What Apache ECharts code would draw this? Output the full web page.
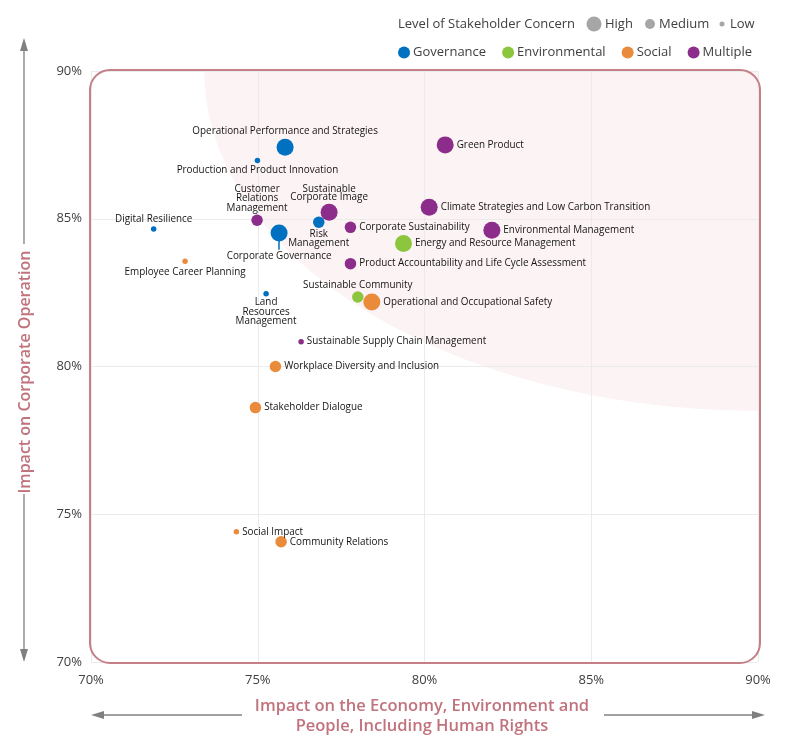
<!DOCTYPE html>
<html>
  <head>
    <meta charset="utf-8">
    <title>Materiality Matrix</title>
    <script src="https://cdn.jsdelivr.net/npm/echarts@6/dist/echarts.min.js"></script>
    <style>
      html, body { margin: 0; padding: 0; background: #fff; }
      #main { width: 791px; height: 756px; }
    </style>
  </head>
  <body>
    <div id="main"></div>
    <script>
      var topics = [
        'Operational Performance and Strategies', 'Production and Product Innovation', 'Green Product',
        'Customer Relations Management', 'Sustainable Corporate Image', 'Risk Management',
        'Corporate Governance', 'Digital Resilience', 'Employee Career Planning',
        'Climate Strategies and Low Carbon Transition', 'Corporate Sustainability', 'Environmental Management',
        'Energy and Resource Management', 'Product Accountability and Life Cycle Assessment', 'Sustainable Community',
        'Operational and Occupational Safety', 'Land Resources Management', 'Sustainable Supply Chain Management',
        'Workplace Diversity and Inclusion', 'Stakeholder Dialogue', 'Social Impact', 'Community Relations'
      ];
      var econImpact = [75.82, 74.99, 80.62, 74.98, 77.14, 76.83, 75.64, 71.88, 72.82, 80.14, 77.78,
                        82.02, 79.37, 77.78, 78.00, 78.42, 75.25, 76.30, 75.53, 74.93, 74.36, 75.70];
      var operImpact = [87.42, 86.97, 87.50, 84.95, 85.22, 84.88, 84.52, 84.65, 83.56, 85.39, 84.71,
                        84.61, 84.16, 83.48, 82.35, 82.18, 82.46, 80.84, 80.00, 78.61, 74.41, 74.07];
      var topicGroup = ['Governance', 'Governance', 'Multiple', 'Multiple', 'Multiple', 'Governance',
                        'Governance', 'Governance', 'Social', 'Multiple', 'Multiple', 'Multiple',
                        'Environmental', 'Multiple', 'Environmental', 'Social', 'Governance', 'Multiple',
                        'Social', 'Social', 'Social', 'Social'];
      var concernLevel = ['High', 'Low', 'High', 'Medium', 'High', 'Medium', 'High', 'Low', 'Low', 'High', 'Medium',
                          'High', 'High', 'Medium', 'Medium', 'High', 'Low', 'Low', 'Medium', 'Medium', 'Low', 'Medium'];
      var groups = ['Governance', 'Environmental', 'Social', 'Multiple'];
      var levels = ['High', 'Medium', 'Low'];

      // styling
      var groupColor = { Governance: '#0070c0', Environmental: '#8cc63f', Social: '#e98b3a', Multiple: '#8c2d8b' };
      var levelSize = { High: 17, Medium: 11.5, Low: 5.5 };
      var FONT = 'Open Sans';
      var ROSE = '#c0737d';
      var ARROW = '#808080';

      // labels that don't sit on the right of their bubble
      var labelPlace = {
        'Operational Performance and Strategies': { position: 'top', distance: 3 },
        'Production and Product Innovation': { position: 'bottom', distance: 2 },
        'Customer Relations Management': { position: 'top', distance: 2, text: 'Customer\nRelations\nManagement' },
        'Sustainable Corporate Image': { position: 'top', distance: 2, text: 'Sustainable\nCorporate Image', lineHeight: 8.5 },
        'Risk Management': { position: 'bottom', distance: 1, text: 'Risk\nManagement' },
        'Corporate Governance': { position: 'bottom', distance: 10 },
        'Digital Resilience': { position: 'top', distance: 2 },
        'Employee Career Planning': { position: 'bottom', distance: 3 },
        'Sustainable Community': { position: 'top', distance: 1 },
        'Land Resources Management': { position: 'bottom', distance: 1, text: 'Land\nResources\nManagement' }
      };

      function pointsOf(g) {
        var out = [];
        for (var i = 0; i < topics.length; i++) {
          if (topicGroup[i] !== g) continue;
          var p = labelPlace[topics[i]] || { position: 'right', distance: 3 };
          out.push({
            name: topics[i],
            value: [econImpact[i], operImpact[i]],
            symbolSize: levelSize[concernLevel[i]],
            label: {
              position: p.position,
              distance: p.distance,
              lineHeight: p.lineHeight || 9.5,
              formatter: p.text || topics[i]
            }
          });
        }
        return out;
      }

      // pale zone of highest materiality (quarter ellipse from the top right corner)
      var zoneRx = 16.6, zoneRy = 11.5;

      var series = [{
        type: 'custom',
        silent: true,
        z: -1,
        data: [[90, 90]],
        renderItem: function (params, api) {
          var pts = [api.coord([90, 90])];
          for (var k = 0; k <= 80; k++) {
            var t = Math.PI / 2 * k / 80;
            pts.push(api.coord([90 - zoneRx * Math.cos(t), 90 - zoneRy * Math.sin(t)]));
          }
          return { type: 'polygon', shape: { points: pts }, style: { fill: '#fcf3f4' } };
        }
      }];

      groups.forEach(function (g) {
        var s = {
          type: 'scatter',
          name: g,
          data: pointsOf(g),
          itemStyle: { color: groupColor[g], opacity: 1 },
          label: {
            show: true,
            color: '#141414',
            fontFamily: FONT,
            fontSize: 9.9
          },
          emphasis: { disabled: true }
        };
        if (g === 'Governance') {
          var ci = topics.indexOf('Corporate Governance');
          s.markLine = {
            silent: true,
            symbol: 'none',
            label: { show: false },
            lineStyle: { color: groupColor[g], width: 1.5, type: 'solid' },
            data: [[{ coord: [econImpact[ci], operImpact[ci]] }, { coord: [econImpact[ci], operImpact[ci] - 0.57] }]]
          };
        }
        series.push(s);
      });

      // top legend row: level of concern
      var legendTop = [{
        type: 'text', x: 398, y: 24,
        style: { text: 'Level of Stakeholder Concern', font: '13px "' + FONT + '"', fill: '#404040', verticalAlign: 'middle' }
      }];
      var lx = [594, 650, 722], lr = [7.5, 5, 2.5], tx = [605, 659, 730];
      levels.forEach(function (lv, i) {
        legendTop.push({ type: 'circle', shape: { cx: lx[i], cy: 24, r: lr[i] }, style: { fill: '#a6a6a6' } });
        legendTop.push({ type: 'text', x: tx[i], y: 24,
          style: { text: lv, font: '13px "' + FONT + '"', fill: '#404040', verticalAlign: 'middle' } });
      });

      var deco = [
        // rounded frame
        { type: 'rect', z: 10, shape: { x: 90, y: 70, width: 670, height: 593, r: 20 },
          style: { fill: 'transparent', stroke: '#c47f87', lineWidth: 2 } },
        // y title with arrows
        { type: 'line', shape: { x1: 24, y1: 50, x2: 24, y2: 244 }, style: { stroke: ARROW, lineWidth: 1.3 } },
        { type: 'polygon', shape: { points: [[24, 38], [20, 51], [28, 51]] }, style: { fill: ARROW } },
        { type: 'line', shape: { x1: 24, y1: 494, x2: 24, y2: 650 }, style: { stroke: ARROW, lineWidth: 1.3 } },
        { type: 'polygon', shape: { points: [[24, 662], [20, 649], [28, 649]] }, style: { fill: ARROW } },
        { type: 'text', x: 25, y: 372, rotation: Math.PI / 2,
          style: { text: 'Impact on Corporate Operation', font: '600 16px "' + FONT + '"', fill: ROSE,
                   align: 'center', verticalAlign: 'middle' } },
        // x title with arrows
        { type: 'line', shape: { x1: 104, y1: 715, x2: 242, y2: 715 }, style: { stroke: ARROW, lineWidth: 1.3 } },
        { type: 'polygon', shape: { points: [[91, 715], [104, 711], [104, 719]] }, style: { fill: ARROW } },
        { type: 'line', shape: { x1: 604, y1: 715, x2: 752, y2: 715 }, style: { stroke: ARROW, lineWidth: 1.3 } },
        { type: 'polygon', shape: { points: [[765, 715], [752, 711], [752, 719]] }, style: { fill: ARROW } },
        { type: 'text', x: 422, y: 716,
          style: { text: 'Impact on the Economy, Environment and\nPeople, Including Human Rights',
                   font: '600 16.5px "' + FONT + '"', fill: ROSE, align: 'center', verticalAlign: 'middle',
                   lineHeight: 20 } }
      ];

      var myChart = echarts.init(document.getElementById('main'));
      myChart.setOption({
        backgroundColor: '#ffffff',
        animation: false,
        grid: { left: 91, right: 33, top: 71, bottom: 94 },
        legend: {
          data: groups,
          icon: 'circle',
          right: 34,
          top: 41,
          itemWidth: 12,
          itemHeight: 12,
          itemGap: 16,
          selectedMode: false,
          textStyle: { color: '#404040', fontSize: 13, fontFamily: FONT, padding: [0, 0, 0, -2] }
        },
        xAxis: {
          type: 'value', min: 70, max: 90, interval: 5,
          axisLine: { show: false }, axisTick: { show: false },
          axisLabel: { formatter: '{value}%', color: '#404040', fontSize: 13, fontFamily: FONT, margin: 12 },
          splitLine: { lineStyle: { color: '#ebebeb' } }
        },
        yAxis: {
          type: 'value', min: 70, max: 90, interval: 5,
          axisLine: { show: false }, axisTick: { show: false },
          axisLabel: { formatter: '{value}%', color: '#404040', fontSize: 13, fontFamily: FONT, margin: 9 },
          splitLine: { lineStyle: { color: '#ebebeb' } }
        },
        graphic: legendTop.concat(deco),
        series: series
      });
    </script>
  </body>
</html>
